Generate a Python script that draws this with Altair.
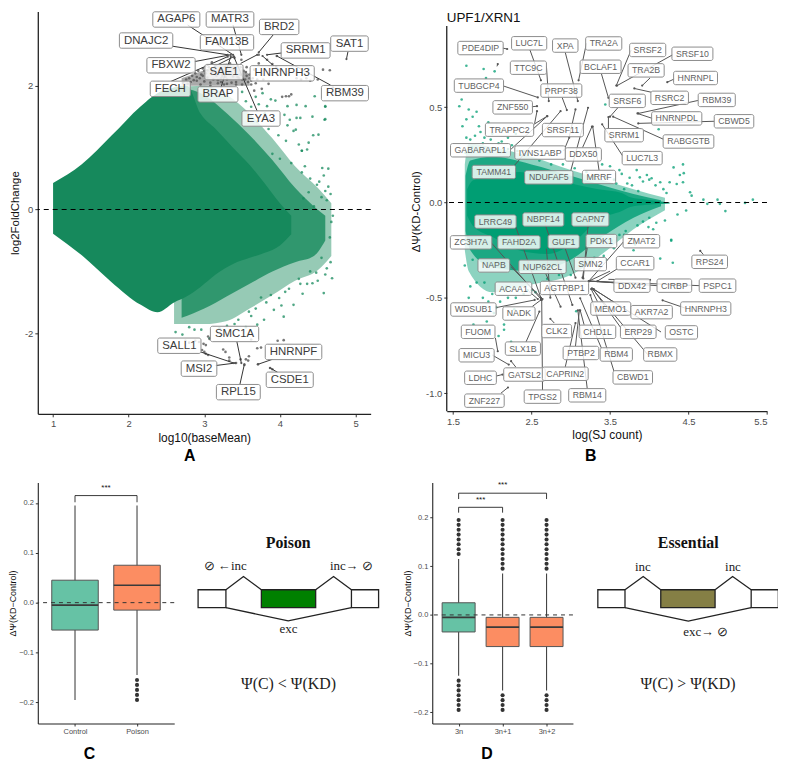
import altair as alt
import pandas as pd

# ---------- Panel A envelope ----------
A_solid_x = [1.0, 1.38, 1.77, 2.16, 2.38, 2.6, 2.77, 2.95, 3.15, 3.38, 3.6, 3.8, 4.0, 4.15]
A_solid_hi = [0.43, 0.73, 1.19, 1.67, 1.88, 1.97, 2.0, 1.55, 1.3, 1.0, 0.72, 0.42, 0.1, -0.1]
A_solid_lo = [-0.39, -0.74, -1.17, -1.54, -1.66, -1.5, -1.4, -1.25, -1.05, -0.88, -0.78, -0.7, -0.58, -0.4]
A_speck_x = [2.7, 3.0, 3.3, 3.6, 3.9, 4.2, 4.45, 4.6]
A_speck_hi = [1.97, 1.85, 1.55, 1.2, 0.8, 0.35, 0.05, -0.1]
A_speck_lo = [-1.75, -1.6, -1.4, -1.2, -1.0, -0.85, -0.75, -0.5]
A_outer_x = [2.6, 3.0, 3.3, 3.6, 3.9, 4.2, 4.5, 4.68]
A_outer_hi = [1.98, 2.0, 1.85, 1.55, 1.15, 0.7, 0.35, 0.1]
A_outer_lo = [-1.85, -1.85, -1.8, -1.6, -1.38, -1.15, -0.98, -0.75]
A_wedge_x = [2.7, 3.0, 3.3, 3.6]
A_wedge_hi = [2.12, 2.25, 2.36, 2.18]
A_wedge_lo = [2.0, 2.0, 2.0, 2.0]

A_green_x = [4.10,4.22,4.34,4.60,3.94,4.46,4.06,4.13,4.22,4.27,4.59,4.10,4.18,4.08,4.25,4.38,4.29,4.36,3.83,3.77,3.88,
             4.60,4.60,4.43,4.51,4.44,4.29,4.21,4.64,4.56,4.64,4.49,4.29,3.72,3.68,3.62,3.8,3.85,3.98,3.7,3.55,3.5,3.9,4.0,
             4.15,4.33,4.4,4.52,4.6,4.67,4.7,4.62,4.55,4.45,4.38,4.31,4.58,4.68,4.66,
             4.69,4.43,4.58,4.27,4.18,4.07,3.99,4.05,3.79,3.59,3.70,2.96,2.87,2.71,3.07,3.3,3.45,3.55,3.68,3.82,3.92,4.02,
             4.12,4.25,4.36,4.48,4.6,4.67,4.55,4.4,3.88,3.75,3.62,3.4,3.2,2.8,2.62,4.3,4.5,4.62]
A_green_y = [1.67,1.69,1.67,1.67,1.76,1.83,1.53,1.45,1.48,1.48,1.45,1.36,1.27,1.11,1.05,1.08,0.95,0.97,1.67,1.88,1.78,
             1.46,1.66,1.50,1.21,1.20,0.95,1.29,0.66,0.67,0.37,0.40,0.60,1.7,1.82,1.66,1.55,1.3,1.2,1.42,1.75,1.9,0.9,0.82,
             0.75,0.7,0.5,0.45,0.3,0.25,-0.1,0.15,0.2,0.05,0.28,0.18,0.55,-0.2,-0.45,
             -1.11,-1.19,-1.35,-1.2,-1.54,-1.33,-1.43,-1.73,-1.78,-1.65,-1.86,-1.94,-1.94,-2.02,-2.08,-1.88,-1.78,-1.9,-1.6,-1.5,-1.62,-1.55,
             -1.28,-1.12,-1.2,-1.02,-1.05,-0.85,-0.78,-1.0,-1.38,-1.42,-1.72,-1.85,-1.92,-1.9,-1.98,-1.36,-1.15,-0.95]

A_gray_x = [2.72,2.76,2.8,2.84,2.86,2.88,2.9,2.92,2.94,2.96,2.98,3.0,3.02,3.04,3.06,3.08,3.1,3.12,3.14,3.16,3.18,3.2,3.22,3.24,3.26,3.28,
            3.3,3.32,3.34,3.36,3.38,3.4,3.42,3.44,3.46,3.48,3.5,3.52,3.54,3.56,3.58,3.6,3.62,3.64,3.66,3.7,2.78,2.82,2.9,2.98,3.04,3.1,3.18,
            3.24,3.3,3.38,3.44,3.5,3.56,3.62,2.95,3.0,3.08,3.15,3.22,3.28,3.35,3.42,3.48,3.55,3.6,3.68,
            3.72,3.78,3.83,3.85,3.9,3.95,4.03,4.08,4.12,4.15,4.28,4.35,4.4,4.5,4.57,4.66,4.7,4.78,3.76,3.66,3.98,4.22,3.4,3.49,3.72,3.96]
A_gray_y = [2.05,2.1,2.12,2.16,2.09,2.2,2.14,2.24,2.12,2.18,2.28,2.07,2.2,2.13,2.3,2.05,2.22,2.1,2.32,2.16,2.04,2.25,2.12,2.18,2.02,2.3,
            2.1,2.2,2.36,2.05,2.15,2.26,2.06,2.32,2.12,2.18,2.02,2.24,2.1,2.3,2.06,2.18,2.02,2.12,2.26,2.1,2.03,2.06,2.08,2.16,2.25,2.38,2.09,
            2.15,2.03,2.28,2.14,2.1,2.16,2.08,2.02,2.24,2.0,2.28,2.06,2.14,2.22,2.02,2.3,2.22,2.12,2.04,
            2.36,2.1,2.42,2.03,2.35,2.3,1.82,1.83,1.83,1.86,2.1,2.12,2.08,2.1,2.26,2.25,1.97,1.93,1.95,1.92,2.26,2.12,2.45,2.42,2.5,2.48]
A_gray2_x = [2.99,3.02,2.97,3.0,3.02,3.05,3.25,3.28,3.33,3.33,3.48,3.55,3.59,3.58,3.70,3.75,3.62,3.97,4.05,3.07,3.05,2.75,2.80,2.88,2.93,3.53,3.71,3.42,3.87,3.9]
A_gray2_y = [-2.17,-2.19,-2.27,-2.30,-2.33,-2.35,-2.26,-2.30,-2.39,-2.44,-2.42,-2.42,-2.37,-2.44,-2.24,-2.23,-2.1,-2.12,-2.11,-2.09,-2.05,-2.12,-2.15,-2.12,-2.14,-2.51,-2.5,-2.48,-2.56,-2.58]

A_names = ["AGAP6","MATR3","BRD2","DNAJC2","FAM13B","SRRM1","SAT1","FBXW2","SAE1","HNRNPH3","FECH","BRAP","RBM39","EYA3","SMC1A","SALL1","HNRNPF","MSI2","CSDE1","RPL15"]
A_label_x = [2.63,3.34,3.99,2.23,3.30,4.34,4.92,2.56,3.26,4.03,2.55,3.18,4.86,3.75,3.40,2.67,4.18,2.93,4.13,3.45]
A_label_y = [3.07,3.07,2.95,2.73,2.70,2.57,2.68,2.33,2.22,2.20,1.95,1.86,1.88,1.47,-2.01,-2.20,-2.30,-2.57,-2.75,-2.95]
A_seg_x1 = [2.78,3.38,3.91,2.57,4.03,4.90,2.87,3.13,3.92,4.67,2.56,3.22,3.70,3.48,3.43,2.95,3.15,3.47,3.90,3.97]
A_seg_y1 = [2.98,2.98,2.82,2.64,2.53,2.55,2.39,2.31,2.32,2.01,2.07,1.97,1.59,2.36,-2.13,-2.30,-2.52,-2.83,-2.42,-2.63]
A_seg_x2 = [3.38,3.49,3.72,3.31,3.83,4.88,3.35,3.39,3.77,3.96,3.31,3.35,3.39,3.70,3.49,3.39,3.41,3.53,3.71,3.87]
A_seg_y2 = [2.50,2.50,2.54,2.50,2.50,2.43,2.50,2.47,2.48,2.48,2.47,2.47,2.47,2.50,-2.48,-2.48,-2.48,-2.50,-2.50,-2.56]

# ---------- Panel B envelope and points ----------
B_solid_x = [1.68,1.75,2.0,2.34,2.7,3.06,3.35,3.65,3.76,3.97,4.26]
B_solid_hi = [0.07,0.115,0.14,0.16,0.135,0.095,0.07,0.05,0.027,0.015,0.0]
B_solid_lo = [-0.07,-0.12,-0.18,-0.25,-0.27,-0.2,-0.09,-0.045,-0.024,-0.012,-0.005]
B_speck_x = [1.66,1.72,2.0,2.5,3.0,3.4,3.8,4.15]
B_speck_hi = [0.14,0.22,0.24,0.2,0.14,0.09,0.045,0.012]
B_speck_lo = [-0.15,-0.25,-0.34,-0.36,-0.3,-0.18,-0.08,-0.02]
B_outer_x = [1.65,1.7,2.0,2.5,3.0,3.4,3.8,4.2]
B_outer_hi = [0.2,0.31,0.29,0.24,0.17,0.12,0.07,0.025]
B_outer_lo = [-0.25,-0.36,-0.47,-0.43,-0.38,-0.27,-0.14,-0.04]

B_green_x = [4.31,4.43,4.44,4.39,3.97,3.88,4.03,4.14,4.26,4.35,4.43,4.52,4.54,4.69,4.87,5.32,5.22,4.74,4.9,4.97,4.47,4.36,4.09,4.2,3.99,4.28,3.8,
             1.67,1.89,2.03,1.92,1.58,1.61,1.7,1.8,1.67,1.83,1.67,3.44,4.12,1.75,1.85,1.95,2.1,2.2,2.3,1.62,1.72,1.78,1.9,2.0,2.12,2.25,2.4,1.66,1.74,1.88,1.98,
             2.08,2.2,2.32,2.45,2.6,2.75,2.9,3.05,3.2,3.3,3.45,3.55,3.65,3.72,3.84,3.92,4.0,4.08,4.18,4.22,3.58,3.68,3.78,3.86,3.5,3.4,3.62,3.75,
             2.15,2.15,2.24,1.76,1.93,3.07,4.28,4.3,4.14,2.28,1.7,1.95,2.05,1.8,2.4,2.5,2.2,1.65,1.72,1.88,2.0,2.1,2.3,2.45,2.55,2.7,2.85,3.0,3.15,3.3,3.42,3.52,3.62,
             3.7,3.78,3.85,3.92,4.0,4.05,1.62,1.75,1.9,2.02,2.18,2.08,3.82,3.55,3.68,3.45,3.35]
B_green_y = [0.184,0.20,0.154,0.144,0.144,0.132,0.127,0.106,0.106,0.097,0.106,0.054,0.036,0.015,0.015,0.015,-0.002,-0.007,-0.007,-0.045,-0.042,-0.063,-0.106,-0.094,-0.129,-0.195,-0.25,
             0.717,0.70,0.688,0.653,0.505,0.54,0.488,0.476,0.436,0.40,0.34,0.514,0.384,0.45,0.37,0.42,0.38,0.34,0.36,0.4,0.33,0.35,0.34,0.36,0.32,0.3,0.27,0.26,0.29,0.31,0.33,
             0.31,0.28,0.27,0.25,0.22,0.2,0.2,0.18,0.16,0.14,0.13,0.12,0.15,0.1,0.17,0.11,0.12,0.09,0.07,0.05,0.1,0.07,0.09,0.06,0.19,0.2,0.17,0.13,
             -0.64,-0.667,-0.73,-0.64,-0.624,-0.57,-0.2,-0.316,-0.294,-0.56,-0.5,-0.52,-0.55,-0.42,-0.48,-0.46,-0.5,-0.33,-0.44,-0.5,-0.48,-0.52,-0.5,-0.46,-0.47,-0.4,-0.38,-0.38,-0.33,-0.29,-0.28,-0.2,-0.17,
             -0.15,-0.19,-0.12,-0.1,-0.08,-0.14,-0.2,-0.3,-0.42,-0.58,-0.44,-0.7,-0.22,-0.24,-0.17,-0.3,-0.33]

B_names = ["PDE4DIP","LUC7L","XPA","TRA2A","SRSF2","SRSF10","TTC9C","BCLAF1","TRA2B","HNRNPL","TUBGCP4","PRPF38","RSRC2","RBM39","SRSF6","ZNF550","HNRNPDL","CBWD5","TRAPPC2","SRSF11","SRRM1","RABGGTB","GABARAPL1","IVNS1ABP","DDX50","LUC7L3","TAMM41","NDUFAF5","MRRF","LRRC49","NBPF14","CAPN7","ZC3H7A","FAHD2A","GUF1","PDK1","ZMAT2","CCAR1","SMN2","NAPB","NUP62CL","RPS24","DDX42","CIRBP","PSPC1","ACAA1","AGTPBP1","HNRNPH3","MEMO1","AKR7A2","WDSUB1","NADK","FUOM","CLK2","CHD1L","ERP29","OSTC","SLX1B","PTBP2","RBM4","RBMX","MICU3","GATSL2","CAPRIN2","LDHC","CBWD1","RBM14","TPGS2","ZNF227"]
B_label_x = [1.85,2.47,2.93,3.42,3.98,4.55,2.46,3.38,3.96,4.59,1.83,2.88,4.26,4.86,3.72,2.26,4.35,5.08,2.22,2.90,3.68,4.50,1.85,2.61,3.16,3.91,2.02,2.72,3.36,2.04,2.65,3.25,1.73,2.34,2.91,3.39,3.90,3.82,3.25,2.02,2.64,4.77,3.78,4.32,4.87,2.27,2.92,4.72,3.51,4.03,1.76,2.34,1.82,2.82,3.34,3.86,4.41,2.39,3.13,3.58,4.14,1.80,2.41,2.93,1.85,3.79,3.21,2.64,1.90]
B_label_y = [0.81,0.835,0.823,0.834,0.80,0.78,0.707,0.712,0.693,0.653,0.613,0.587,0.549,0.538,0.533,0.499,0.441,0.426,0.382,0.380,0.353,0.320,0.274,0.262,0.252,0.233,0.16,0.132,0.134,-0.10,-0.089,-0.089,-0.209,-0.209,-0.205,-0.202,-0.203,-0.318,-0.323,-0.330,-0.337,-0.311,-0.436,-0.436,-0.436,-0.452,-0.448,-0.556,-0.556,-0.575,-0.561,-0.582,-0.678,-0.674,-0.678,-0.678,-0.681,-0.766,-0.789,-0.797,-0.797,-0.801,-0.902,-0.898,-0.919,-0.917,-1.011,-1.018,-1.039]
B_seg_x1 = [2.13,2.06,2.48,2.69,2.93,3.20,3.39,3.77,4.30,4.01,4.32,2.15,2.89,4.03,4.62,3.60,2.50,4.04,4.83,2.53,2.54,2.24,2.28,2.98,3.0,2.91,3.15,3.36,3.48,3.66,4.18,
            2.30,1.97,2.67,2.69,2.68,2.24,2.47,2.93,3.21,3.23,3.67,3.60,3.50,3.67,3.48,4.10,4.64,2.05,2.51,2.43,2.64,4.69,4.46,3.77,3.34,4.15,3.64,3.98,3.39,3.55,3.17,3.06,2.93,3.21,2.79,2.04,2.0,2.30,2.05,2.11]
B_seg_y1 = [0.81,0.714,0.80,0.714,0.787,0.835,0.676,0.80,0.775,0.653,0.648,0.61,0.551,0.578,0.535,0.497,0.502,0.441,0.426,0.41,0.415,0.28,0.193,0.344,0.167,0.27,0.288,0.17,0.387,0.245,0.332,
            -0.129,-0.203,-0.11,-0.242,-0.372,-0.337,-0.467,-0.242,-0.238,-0.077,-0.207,-0.346,-0.36,-0.424,-0.403,-0.436,-0.436,-0.551,-0.545,-0.731,-0.983,-0.273,-0.554,-0.58,-0.519,-0.679,-0.658,-0.797,-0.763,-0.884,-0.641,-0.754,-0.862,-0.976,-0.632,-0.71,-0.80,-0.863,-0.91,-1.0]
B_seg_x2 = [2.19,2.07,2.62,2.72,3.09,3.10,3.48,3.58,3.59,3.91,4.23,2.58,2.95,3.81,3.86,3.50,2.57,3.85,3.86,2.70,2.57,2.70,2.87,3.06,3.22,2.98,3.27,3.28,3.48,3.40,3.54,
            2.62,2.62,3.02,2.74,2.87,2.64,2.58,3.06,3.15,3.16,3.23,3.34,3.23,3.23,4.01,3.24,3.24,2.54,2.62,2.60,2.63,4.65,4.17,3.29,3.26,3.29,3.29,3.27,3.12,3.25,3.12,3.11,3.06,3.09,2.74,2.07,2.21,2.24,2.13,2.20]
B_seg_y2 = [0.805,0.726,0.641,0.532,0.532,0.641,0.549,0.613,0.613,0.613,0.631,0.551,0.485,0.598,0.467,0.45,0.505,0.467,0.415,0.453,0.479,0.453,0.479,0.488,0.497,0.34,0.398,0.398,0.448,0.41,0.45,
            -0.50,-0.506,-0.537,-0.499,-0.546,-0.506,-0.506,-0.394,-0.394,-0.398,-0.412,-0.412,-0.412,-0.412,-0.406,-0.412,-0.412,-0.511,-0.511,-0.572,-0.511,-0.254,-0.513,-0.454,-0.454,-0.454,-0.458,-0.45,-0.502,-0.485,-0.565,-0.565,-0.632,-0.565,-0.61,-0.78,-0.85,-0.832,-0.902,-0.97]

# ---------- Boxplots ----------
C_cat = ["Control", "Poison"]
C_low = [-0.195, -0.145]; C_q1 = [-0.055, -0.015]; C_med = [-0.005, 0.035]; C_q3 = [0.045, 0.075]; C_high = [0.195, 0.195]
C_out_pos = [2, 2, 2, 2, 2]; C_out_val = [-0.155, -0.165, -0.175, -0.185, -0.195]
D_cat = ["3n", "3n+1", "3n+2"]
D_low = [-0.125, -0.155, -0.155]; D_q1 = [-0.035, -0.065, -0.065]; D_med = [-0.005, -0.025, -0.025]; D_q3 = [0.025, -0.005, -0.005]; D_high = [0.115, 0.085, 0.085]
D_out_pos = [1]*15 + [2]*15 + [3]*15
D_out_val = [0.125,0.135,0.145,0.155,0.165,0.175,0.185,0.195,-0.135,-0.145,-0.155,-0.165,-0.175,-0.185,-0.195,
             0.095,0.105,0.115,0.125,0.135,0.145,0.155,0.165,0.175,0.185,0.195,-0.165,-0.175,-0.185,-0.195,
             0.095,0.105,0.115,0.125,0.135,0.145,0.155,0.165,0.175,0.185,0.195,-0.165,-0.175,-0.185,-0.195]

HELV = {**{c: .667 for c in "ABEKPSVXY"}, **{c: .722 for c in "CDHNRU"}, "F": .611, "G": .778, "I": .278, "J": .5, "L": .556, "M": .833, "O": .778, "Q": .778, "T": .611, "W": .944, "Z": .611}
def text_em(s):
    return sum(HELV.get(c, .556) for c in s)

GREY = "#4d4d4d"
FONT = "Liberation Sans"

def letter_layer(letter, xy):
    return alt.Chart(pd.DataFrame({"t": [letter]})).mark_text(font=FONT, fontSize=16, fontWeight="bold", color="black", baseline="middle", align="center").encode(
        x=alt.value(xy[0]), y=alt.value(xy[1]), text="t:N")

def scatter_panel(w, h, xdom, ydom, xticks, yticks, xtitle, ytitle, fmtx, fmty, solid, speck, outer, pts, gray, wedge, labels, segs,
                  color, fs, box_h, pad, lab_color, letter, letter_xy, pt_size, seg_color, title=None, axis_top=None):
    sx = alt.Scale(domain=xdom, nice=False, zero=False)
    sy = alt.Scale(domain=ydom, nice=False, zero=False)
    ax_x = alt.Axis(values=xticks, title=xtitle, grid=False, format=fmtx, labelColor=GREY, labelFontSize=9.5, tickSize=3, tickColor="#333",
                    domainColor="#222", domainWidth=1.3, titleFontSize=12, titleFontWeight="normal", titlePadding=4, labelPadding=2, titleColor="#111")
    ax_y = alt.Axis(values=yticks, title=ytitle, grid=False, labelExpr="replace(format(datum.value,'%s'),'\u2212','-')" % fmty, labelColor=GREY, labelFontSize=9.5, tickSize=3, tickColor="#333",
                    domain=axis_top is None, domainColor="#222", domainWidth=1.3, titleFontSize=11.5, titleFontWeight="normal", titlePadding=4, labelPadding=2, titleColor="#111")
    X = lambda f: alt.X(f, scale=sx, axis=ax_x)
    Y = lambda f: alt.Y(f, scale=sy, axis=ax_y)
    layers = []
    for tier, op in ((outer, 0.45), (speck, 0.8), (solid, 1)):
        df = pd.DataFrame({"x": tier[0], "y": tier[1], "y2": tier[2]})
        layers.append(alt.Chart(df).mark_area(color=color, opacity=op, interpolate="monotone").encode(x=X("x:Q"), y=Y("y:Q"), y2="y2:Q"))
    layers.append(alt.Chart(pd.DataFrame({"x": pts[0], "y": pts[1]})).mark_circle(color=color, opacity=0.75, size=pt_size).encode(x=X("x:Q"), y=Y("y:Q")))
    if wedge is not None:
        df = pd.DataFrame({"x": wedge[0], "y": wedge[1], "y2": wedge[2]})
        layers.append(alt.Chart(df).mark_area(color="#555555", opacity=0.5, interpolate="monotone").encode(x=X("x:Q"), y=Y("y:Q"), y2="y2:Q"))
    if gray is not None:
        layers.append(alt.Chart(pd.DataFrame({"x": gray[0], "y": gray[1]})).mark_circle(color="#555555", opacity=0.8, size=pt_size).encode(x=X("x:Q"), y=Y("y:Q")))
    if axis_top is not None:
        layers.append(alt.Chart(pd.DataFrame({"x": [xdom[0]], "y": [ydom[0]], "y2": [axis_top]})).mark_rule(color="#222", strokeWidth=1.3).encode(x=X("x:Q"), y=Y("y:Q"), y2="y2:Q"))
    layers.append(alt.Chart(pd.DataFrame({"y": [0]})).mark_rule(color="black", strokeDash=[5, 4], strokeWidth=1.1).encode(y=Y("y:Q")))
    seg = pd.DataFrame({"x": segs[0], "y": segs[1], "x2": segs[2], "y2": segs[3]})
    layers.append(alt.Chart(seg).mark_rule(color=seg_color, strokeWidth=1).encode(x=X("x:Q"), y=Y("y:Q"), x2="x2:Q", y2="y2:Q"))
    layers.append(alt.Chart(seg).mark_circle(color="#555555", size=5, opacity=1).encode(x=X("x2:Q"), y=Y("y2:Q")))
    ppx = w / (xdom[1] - xdom[0]); ppy = h / (ydom[1] - ydom[0])
    names, lx, ly = labels
    hw = [(text_em(n) * fs + pad) / 2 / ppx for n in names]
    hh = box_h / 2 / ppy
    lab = pd.DataFrame({"t": names, "x": lx, "y": ly,
                        "x0": [a - b for a, b in zip(lx, hw)], "x1": [a + b for a, b in zip(lx, hw)],
                        "y0": [a - hh for a in ly], "y1": [a + hh for a in ly]})
    layers.append(alt.Chart(lab).mark_rect(fill="white", fillOpacity=0.82, stroke="#8c8c8c", strokeWidth=1, cornerRadius=2).encode(
        x=X("x0:Q"), x2="x1:Q", y=Y("y0:Q"), y2="y1:Q"))
    layers.append(alt.Chart(lab).mark_text(font=FONT, fontSize=fs, color=lab_color).encode(x=X("x:Q"), y=Y("y:Q"), text="t:N"))
    layers.append(letter_layer(letter, letter_xy))
    if title:
        layers.append(alt.Chart(pd.DataFrame({"t": [title]})).mark_text(font=FONT, fontSize=13.5, align="left", baseline="top", color="#111").encode(
            x=alt.value(0), y=alt.value(0), text="t:N"))
    return alt.layer(*layers).properties(width=w, height=h)

panel_a = scatter_panel(335, 405, [0.798, 5.2], [-3.30, 3.2], [1, 2, 3, 4, 5], [2, 0, -2], "log10(baseMean)", "log2FoldChange", "d", "d",
    (A_solid_x, A_solid_hi, A_solid_lo), (A_speck_x, A_speck_hi, A_speck_lo), (A_outer_x, A_outer_hi, A_outer_lo), (A_green_x, A_green_y),
    (A_gray_x + A_gray2_x, A_gray_y + A_gray2_y), (A_wedge_x, A_wedge_hi, A_wedge_lo), (A_names, A_label_x, A_label_y), (A_seg_x1, A_seg_y1, A_seg_x2, A_seg_y2),
    "#16895c", 11.5, 15.5, 9, "#3c3c3c", "A", (153, 447), 7, "#333333")

panel_b = scatter_panel(322.3, 402.3, [1.42, 5.5], [-1.094, 1.002], [1.5, 2.5, 3.5, 4.5, 5.5], [0.5, 0, -0.5, -1], "log(SJ count)", "\u0394\u03a8(KD-Control)", ".1f", ".1f",
    (B_solid_x, B_solid_hi, B_solid_lo), (B_speck_x, B_speck_hi, B_speck_lo), (B_outer_x, B_outer_hi, B_outer_lo), (B_green_x, B_green_y),
    None, None, (B_names, B_label_x, B_label_y), (B_seg_x1, B_seg_y1, B_seg_x2, B_seg_y2),
    "#009e73", 8.8, 13.5, 8, "#5f5f5f", "B", (145, 447), 7, "#555555", title="UPF1/XRN1", axis_top=0.925)

def box_panel(w, h, xdom, ydom, cats, low, q1, med, q3, high, out_pos, out_val, fills, brackets, yticks, letter, letter_xy):
    sx = alt.Scale(domain=xdom, nice=False, zero=False)
    sy = alt.Scale(domain=ydom, nice=False, zero=False)
    pos = list(range(1, len(cats) + 1))
    lab = "[" + ",".join("'%s'" % c for c in cats) + "][datum.value-1]"
    ax_x = alt.Axis(values=pos, title=None, grid=False, labelExpr=lab, labelColor=GREY, labelFontSize=7.5, tickSize=2.5, tickColor="#333", domainColor="#222", domainWidth=1.1, labelPadding=2, labelAngle=0)
    ax_y = alt.Axis(values=yticks, title="\u0394\u03a8(KD\u2212Control)", format=".1f", grid=False, labelColor=GREY, labelFontSize=7.5, tickSize=2.5, tickColor="#333", domainColor="#222", domainWidth=1.1, titleFontSize=9, titleFontWeight="normal", titlePadding=1, labelPadding=2, titleColor="#111")
    X = lambda f: alt.X(f, scale=sx, axis=ax_x)
    Y = lambda f: alt.Y(f, scale=sy, axis=ax_y)
    df = pd.DataFrame({"x": pos, "low": low, "q1": q1, "med": med, "q3": q3, "high": high, "fill": fills,
                       "x0": [p - .375 for p in pos], "x1": [p + .375 for p in pos]})
    layers = [
        alt.Chart(df).mark_rule(color="#444", strokeWidth=1.1).encode(x=X("x:Q"), y=Y("low:Q"), y2="high:Q"),
        alt.Chart(df).mark_rect(stroke="#555", strokeWidth=1).encode(x=X("x0:Q"), x2="x1:Q", y=Y("q1:Q"), y2="q3:Q", fill=alt.Fill("fill:N", scale=None)),
        alt.Chart(df).mark_rule(color="#3a3a3a", strokeWidth=1.6).encode(x=X("x0:Q"), x2="x1:Q", y=Y("med:Q")),
        alt.Chart(pd.DataFrame({"x": out_pos, "y": out_val})).mark_circle(color="#333", opacity=1, size=17).encode(x=X("x:Q"), y=Y("y:Q")),
        alt.Chart(pd.DataFrame({"y": [0]})).mark_rule(color="#333", strokeDash=[4, 4], strokeWidth=1).encode(y=Y("y:Q")),
    ]
    for (a, b, top, tip, star) in brackets:
        seg = pd.DataFrame({"x": [a, a, b], "x2": [a, b, b], "y": [tip, top, top], "y2": [top, top, tip]})
        layers.append(alt.Chart(seg).mark_rule(color="#222", strokeWidth=0.9).encode(x=X("x:Q"), x2="x2:Q", y=Y("y:Q"), y2="y2:Q"))
        layers.append(alt.Chart(pd.DataFrame({"x": [(a + b) / 2], "y": [star], "t": ["***"]})).mark_text(font=FONT, fontSize=8, color="#111", baseline="middle").encode(x=X("x:Q"), y=Y("y:Q"), text="t:N"))
    layers.append(letter_layer(letter, letter_xy))
    return alt.layer(*layers).properties(width=w, height=h)

panel_c = box_panel(137.3, 242.6, [0.4, 2.6], [-0.2424, 0.241], C_cat, C_low, C_q1, C_med, C_q3, C_high, C_out_pos, C_out_val,
                    ["#66c2a5", "#fc8d62"], [(1, 2, 0.2147, 0.2013, 0.229)], [-0.2, -0.1, 0, 0.1, 0.2], "C", (52, 273))
panel_d = box_panel(141.6, 242.6, [0.4, 3.6], [-0.223, 0.272], D_cat, D_low, D_q1, D_med, D_q3, D_high, D_out_pos, D_out_val,
                    ["#66c2a5", "#fc8d62", "#fc8d62"], [(1, 2, 0.221, 0.21, 0.236), (1, 3, 0.25, 0.238, 0.266)], [-0.2, -0.1, 0, 0.1, 0.2], "D", (55, 273))

# ---------- Splicing schematics (diagram units) ----------
P_exon_x0 = [593, 784, 1056]; P_exon_x1 = [677, 948, 1138]; P_fill = ["white", "#008000", "white"]
P_line_x = [677, 730, 784, 948, 1002, 1056, 677, 865, 1056]
P_line_y = [362, 322, 362, 362, 322, 362, 416, 456, 416]
P_line_g = [0, 0, 0, 1, 1, 1, 2, 2, 2]
P_head = ("Poison", 865, 222)
P_texts = [("\u2298 \u2190inc", 675, 290), ("inc\u2192 \u2298", 1056, 290), ("exc", 866, 482)]
P_formula = ("\u03a8(C) < \u03a8(KD)", 866, 647)

E_exon_x0 = [630, 820, 1093]; E_exon_x1 = [712, 984, 1175]; E_fill = ["white", "#857f45", "white"]
E_line_x = [712, 767, 820, 984, 1037, 1093, 712, 903, 1093]
E_line_y = [362, 322, 362, 362, 322, 362, 416, 457, 416]
E_line_g = [0, 0, 0, 1, 1, 1, 2, 2, 2]
E_head = ("Essential", 903, 222)
E_texts = [("inc", 766, 293), ("inc", 1038, 293), ("exc\u2192 \u2298", 956, 489)]
E_formula = ("\u03a8(C) > \u03a8(KD)", 902, 647)
EXON_TOP = 362; EXON_BOTTOM = 416

def schematic(w, xdom, x0, x1, fills, lx, ly, lg, head, texts, formula):
    h = 242.6
    sx = alt.Scale(domain=xdom, nice=False, zero=False)
    sy = alt.Scale(domain=[766, 38], nice=False, zero=False)
    nx = alt.X("x:Q", scale=sx, axis=None); ny = alt.Y("y:Q", scale=sy, axis=None)
    rects = pd.DataFrame({"x": x0, "x2": x1, "y": [EXON_TOP] * 3, "y2": [EXON_BOTTOM] * 3, "fill": fills})
    lines = pd.DataFrame({"x": lx, "y": ly, "g": lg})
    t = pd.DataFrame({"t": [a for a, _, _ in texts], "x": [b for _, b, _ in texts], "y": [c for _, _, c in texts]})
    serif = "Liberation Serif"
    return alt.layer(
        alt.Chart(lines).mark_line(color="#222", strokeWidth=1.3).encode(x=nx, y=ny, detail="g:N"),
        alt.Chart(rects).mark_rect(stroke="#222", strokeWidth=1.3).encode(x=nx, x2="x2:Q", y=ny, y2="y2:Q", fill=alt.Fill("fill:N", scale=None)),
        alt.Chart(t).mark_text(font=serif, fontSize=13, color="#222").encode(x=nx, y=ny, text="t:N"),
        alt.Chart(pd.DataFrame({"t": [head[0]], "x": [head[1]], "y": [head[2]]})).mark_text(font=serif, fontSize=16, fontWeight="bold", color="#111").encode(x=nx, y=ny, text="t:N"),
        alt.Chart(pd.DataFrame({"t": [formula[0]], "x": [formula[1]], "y": [formula[2]]})).mark_text(font=serif, fontSize=16, color="#222").encode(x=nx, y=ny, text="t:N"),
    ).properties(width=w, height=h)

schem_c = schematic(238.4, [553, 1268.2], P_exon_x0, P_exon_x1, P_fill, P_line_x, P_line_y, P_line_g, P_head, P_texts, P_formula)
schem_d = schematic(192, [586, 1162], E_exon_x0, E_exon_x1, E_fill, E_line_x, E_line_y, E_line_g, E_head, E_texts, E_formula)

top = alt.hconcat(panel_a, panel_b, spacing=38.6)
bottom = alt.hconcat(panel_c, schem_c, panel_d, schem_d, spacing=10, bounds="flush")
chart = alt.vconcat(top, bottom, spacing=17.1).properties(padding={"left": 0, "top": 0, "right": -1, "bottom": 0}).configure(font=FONT)
chart = chart.configure_view(stroke=None).configure_axis(labelFont=FONT, titleFont=FONT)
chart.save("out.html", embed_options={"renderer": "svg", "actions": False})
